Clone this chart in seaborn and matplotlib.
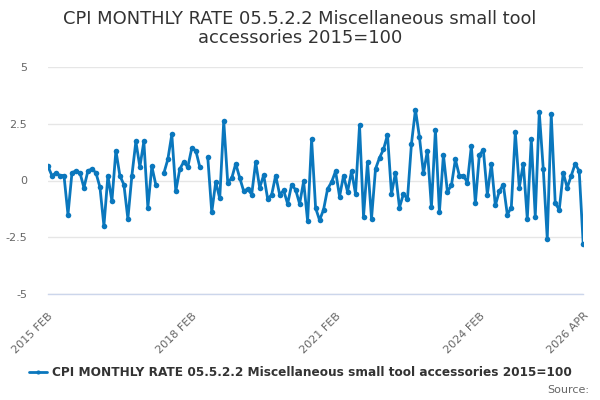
import numpy as np
import pandas as pd
import matplotlib
matplotlib.use("Agg")
import matplotlib.pyplot as plt
import seaborn as sns

# monthly values, 2015 FEB .. 2026 APR (None = no data)
values = [
    0.62, 0.21, 0.34, 0.22, 0.22, -1.50, 0.34, 0.43, 0.34, -0.32,
    0.43, 0.51, 0.34, -0.29, -2.00, 0.21, -0.91, 1.32, 0.21, -0.18,
    -1.69, 0.21, 1.72, 0.60, 1.72, -1.19, 0.62, -0.19, None, 0.32,
    0.93, 2.03, -0.47, 0.51, 0.82, 0.59, 1.43, 1.32, 0.60, None,
    1.03, -1.40, -0.06, -0.79, 2.62, -0.09, 0.10, 0.74, 0.12, -0.47,
    -0.37, -0.62, 0.81, -0.32, 0.24, -0.81, -0.63, 0.22, -0.62, -0.44,
    -1.03, -0.18, -0.41, -1.03, -0.04, -1.79, 1.82, -1.21, -1.75, -1.28,
    -0.37, -0.07, 0.41, -0.71, 0.22, -0.50, 0.41, -0.59, 2.43, -1.59,
    0.81, -1.68, 0.51, 1.00, 1.37, 2.01, -0.59, 0.34, -1.19, -0.59,
    -0.82, 1.62, 3.12, 1.91, 0.32, 1.32, -1.18, 2.24, -1.40, 1.13,
    -0.49, -0.22, 0.93, 0.21, 0.22, -0.09, 1.53, -1.00, 1.13, 1.34,
    -0.62, 0.74, -1.10, -0.47, -0.18, -1.50, -1.19, 2.12, -0.31, 0.74,
    -1.69, 1.82, -1.59, 3.01, 0.51, -2.57, 2.91, -1.00, -1.29, 0.34,
    -0.32, 0.21, 0.74, 0.41, -2.79,
]
tick_months = [0, 9, 18, 27, 36, 45, 54, 63, 72, 81, 90, 99, 108, 117, 126, 134]
tick_labels = {0: "2015 FEB", 36: "2018 FEB", 72: "2021 FEB", 108: "2024 FEB", 134: "2026 APR"}
y_ticks = [-5, -2.5, 0, 2.5, 5]
series_name = "CPI MONTHLY RATE 05.5.2.2 Miscellaneous small tool accessories 2015=100"
title = "CPI MONTHLY RATE 05.5.2.2 Miscellaneous small tool\naccessories 2015=100"

df = pd.DataFrame({"month": range(len(values)), "rate": values})
df["rate"] = df["rate"].astype(float)
# split into segments so gaps stay open
df["seg"] = df["rate"].isna().cumsum()
df = df.dropna()

sns.set_style("white")
plt.rcParams["font.family"] = ["DejaVu Sans"]

fig = plt.figure(figsize=(6, 4), dpi=100)
ax = fig.add_axes([0.08, 0.265, 0.892, 0.5675])

line_color = "#0a77bd"
sns.lineplot(data=df, x="month", y="rate", units="seg", estimator=None,
             color=line_color, linewidth=2, marker="o", markersize=4,
             markeredgewidth=0, ax=ax, legend=False)

ax.set_xlim(0, 134)
ax.set_ylim(-5, 5)
ax.set_yticks(y_ticks)
ax.set_yticklabels(["-5", "-2.5", "0", "2.5", "5"])
ax.yaxis.grid(True, color="#e6e6e6", linewidth=1)
ax.set_axisbelow(True)
ax.set_xticks(tick_months)
ax.set_xticklabels([tick_labels.get(m, "") for m in tick_months],
                   rotation=45, ha="right", rotation_mode="anchor")
ax.set_xlabel("")
ax.set_ylabel("")
for s in ["top", "right", "left"]:
    ax.spines[s].set_visible(False)
ax.spines["bottom"].set_color("#ccd6eb")
ax.spines["bottom"].set_linewidth(1)
ax.tick_params(axis="x", colors="#ccd6eb", length=9, width=1, labelcolor="#666666",
               labelsize=8, pad=3)
ax.tick_params(axis="y", length=0, labelcolor="#666666", labelsize=8, pad=15)

fig.text(0.5, 0.928, title, ha="center", va="center", fontsize=12.9,
         color="#333333", linespacing=1.1)

# legend at the bottom
leg_handle = plt.Line2D([], [], color=line_color, linewidth=2, marker="o",
                        markersize=3, markeredgewidth=0)
fig.legend([leg_handle], [series_name], loc="center", bbox_to_anchor=(0.5, 0.068),
           frameon=False, prop={"weight": "bold", "size": 8.75}, handlelength=1.5,
           handletextpad=0.4, labelcolor="#333333")
fig.text(0.982, 0.025, "Source:", ha="right", va="center", fontsize=8, color="#666666")

fig.savefig("out.png", dpi=100)
